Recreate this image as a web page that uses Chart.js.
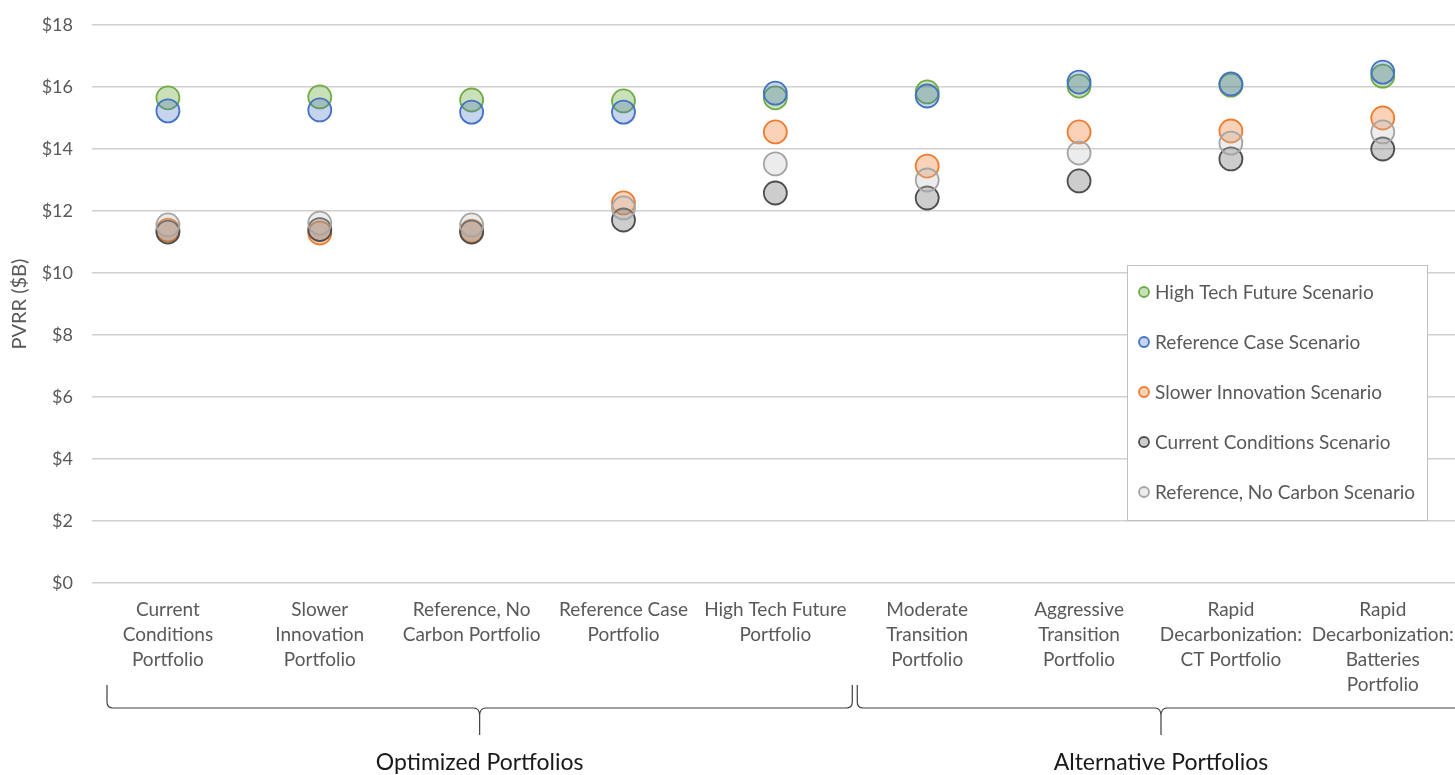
<!DOCTYPE html>
<html>
<head>
<meta charset="utf-8">
<title>PVRR by Portfolio and Scenario</title>
<script src="https://cdn.jsdelivr.net/npm/chart.js@4.4.1/dist/chart.umd.min.js"></script>
<style>
  html, body { margin: 0; padding: 0; background: #ffffff; overflow: hidden; }
  #wrap { width: 1472px; height: 775px; }
</style>
</head>
<body>
<div id="wrap"><canvas id="chart" width="1472" height="775"></canvas></div>
<script>
// Portfolios (x categories), each label split into its display lines
const portfolios = [
  ['Current', 'Conditions', 'Portfolio'],
  ['Slower', 'Innovation', 'Portfolio'],
  ['Reference, No', 'Carbon Portfolio'],
  ['Reference Case', 'Portfolio'],
  ['High Tech Future', 'Portfolio'],
  ['Moderate', 'Transition', 'Portfolio'],
  ['Aggressive', 'Transition', 'Portfolio'],
  ['Rapid', 'Decarbonization:', 'CT Portfolio'],
  ['Rapid', 'Decarbonization:', 'Batteries', 'Portfolio']
];

// PVRR ($B) of each portfolio under each scenario
const highTechFuture   = [15.65, 15.68, 15.58, 15.55, 15.65, 15.84, 16.03, 16.06, 16.35];
const referenceCase    = [15.23, 15.26, 15.19, 15.19, 15.80, 15.71, 16.16, 16.10, 16.48];
const slowerInnovation = [11.38, 11.29, 11.35, 12.26, 14.55, 13.45, 14.55, 14.58, 15.00];
const currentConds     = [11.32, 11.40, 11.32, 11.71, 12.58, 12.42, 12.97, 13.68, 14.00];
const refNoCarbon      = [11.55, 11.61, 11.55, 12.10, 13.52, 13.00, 13.87, 14.19, 14.55];

// Y axis ticks
const yTicks = [0, 2, 4, 6, 8, 10, 12, 14, 16, 18];

// Portfolio groupings shown with braces under the axis (first/last category index)
const groupNames = ['Optimized Portfolios', 'Alternative Portfolios'];
const groupStart = [0, 5];
const groupEnd   = [4, 8];

const FONT = 'Lato, "Open Sans", sans-serif';
const TEXT = '#595959';

function series(label, data, stroke, fill, order) {
  return {
    label, data, order,
    showLine: false,
    pointRadius: 11.5,
    pointHoverRadius: 11.5,
    pointBorderWidth: 1.8,
    borderColor: stroke,
    backgroundColor: fill,
    pointBorderColor: stroke,
    pointBackgroundColor: fill
  };
}

// Legend box drawn inside the plot area
const boxLegend = {
  id: 'boxLegend',
  afterDatasetsDraw(chart) {
    const ctx = chart.ctx;
    const x0 = 1127, y0 = 265, w = 300, h = 255;
    ctx.save();
    ctx.fillStyle = '#ffffff';
    ctx.fillRect(x0, y0, w, h);
    ctx.strokeStyle = '#BFBFBF';
    ctx.lineWidth = 1;
    ctx.strokeRect(x0 + 0.5, y0 + 0.5, w, h);
    ctx.font = '19px ' + FONT;
    ctx.textBaseline = 'middle';
    ctx.textAlign = 'left';
    chart.data.datasets.forEach((ds, i) => {
      const cy = y0 + 27 + i * 50;
      ctx.beginPath();
      ctx.arc(x0 + 17, cy, 5, 0, Math.PI * 2);
      ctx.fillStyle = ds.backgroundColor;
      ctx.fill();
      ctx.lineWidth = 1.8;
      ctx.strokeStyle = ds.borderColor;
      ctx.stroke();
      ctx.fillStyle = TEXT;
      ctx.fillText(ds.label, x0 + 28, cy + 1);
    });
    ctx.restore();
  }
};

// Curly braces grouping the portfolios under the category labels
const groupBraces = {
  id: 'groupBraces',
  afterDraw(chart) {
    const ctx = chart.ctx;
    const xs = chart.scales.x;
    const step = xs.getPixelForValue(1) - xs.getPixelForValue(0);
    const yTop = 685, yLine = 708, yTip = 735;
    ctx.save();
    ctx.strokeStyle = '#404040';
    ctx.lineWidth = 1.2;
    groupNames.forEach((name, g) => {
      const a = xs.getPixelForValue(groupStart[g]) - step / 2 + (g === 0 ? 15 : 6);
      const b = xs.getPixelForValue(groupEnd[g]) + step / 2 + (g === 0 ? 1 : 6);
      const mid = (a + b) / 2;
      ctx.beginPath();
      ctx.moveTo(a, yTop);
      ctx.lineTo(a, yLine - 6);
      ctx.quadraticCurveTo(a, yLine, a + 6, yLine);
      ctx.lineTo(mid - 6, yLine);
      ctx.quadraticCurveTo(mid, yLine, mid, yLine + 8);
      ctx.lineTo(mid, yTip);
      ctx.moveTo(mid, yLine + 8);
      ctx.quadraticCurveTo(mid, yLine, mid + 6, yLine);
      ctx.lineTo(b - 6, yLine);
      ctx.quadraticCurveTo(b, yLine, b, yLine - 6);
      ctx.lineTo(b, yTop);
      ctx.stroke();
      ctx.fillStyle = '#1a1a1a';
      ctx.font = '23px ' + FONT;
      ctx.textAlign = 'center';
      ctx.textBaseline = 'middle';
      ctx.fillText(name, mid, 763);
    });
    ctx.restore();
  }
};

new Chart(document.getElementById('chart'), {
  type: 'line',
  data: {
    labels: portfolios,
    datasets: [
      series('High Tech Future Scenario',  highTechFuture,   '#70AD47', 'rgba(112,173,71,0.38)', 5),
      series('Reference Case Scenario',    referenceCase,    '#4472C4', 'rgba(68,114,196,0.30)', 4),
      series('Slower Innovation Scenario', slowerInnovation, '#ED7D31', 'rgba(237,125,49,0.35)', 3),
      series('Current Conditions Scenario', currentConds,    '#4D4D4D', 'rgba(89,89,89,0.30)', 2),
      series('Reference, No Carbon Scenario', refNoCarbon,   '#A5A5A5', 'rgba(191,191,191,0.30)', 1)
    ]
  },
  options: {
    responsive: false,
    animation: false,
    events: [],
    layout: { padding: { top: 25, left: 0, right: 0, bottom: 0 } },
    plugins: {
      legend: { display: false },
      title: { display: false },
      tooltip: { enabled: false }
    },
    scales: {
      x: {
        type: 'category',
        offset: true,
        grid: { display: false, drawTicks: false },
        border: { display: false },
        ticks: {
          autoSkip: false,
          maxRotation: 0,
          minRotation: 0,
          padding: 14,
          color: TEXT,
          font: { family: FONT, size: 19, lineHeight: 1.32 }
        },
        afterFit(scale) {
          scale.height = 192;
          scale.paddingLeft = 0;
          scale.paddingRight = 0;
        }
      },
      y: {
        min: 0,
        max: 18,
        afterBuildTicks(scale) { scale.ticks = yTicks.map(v => ({ value: v })); },
        grid: { color: '#D0D0D0', lineWidth: 1.6, drawTicks: false },
        border: { display: false },
        ticks: {
          padding: 19,
          color: TEXT,
          font: { family: FONT, size: 18 },
          callback: v => '$' + v
        },
        title: {
          display: true,
          text: 'PVRR ($B)',
          color: TEXT,
          font: { family: FONT, size: 20 },
          padding: { top: 8, bottom: 0 }
        },
        afterFit(scale) {
          scale.width = 92;
          scale.paddingTop = 0;
          scale.paddingBottom = 0;
        }
      }
    }
  },
  plugins: [boxLegend, groupBraces]
});
</script>
</body>
</html>
